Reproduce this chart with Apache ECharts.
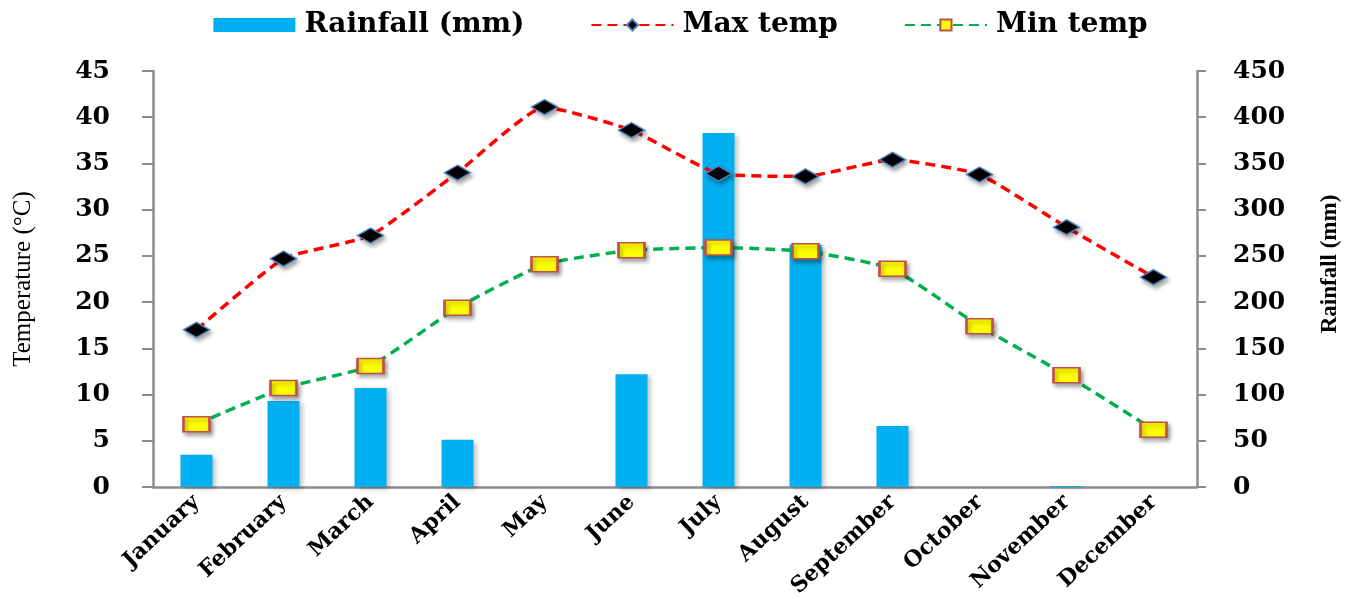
<!DOCTYPE html>
<html>
<head>
<meta charset="utf-8">
<script src="https://cdn.jsdelivr.net/npm/echarts@6/dist/echarts.min.js"></script>
<style>
html,body{margin:0;padding:0;background:#fff;}
#chart{width:1361px;height:599px;}
</style>
</head>
<body>
<div id="chart"></div>
<script>
const months = ['January','February','March','April','May','June','July','August','September','October','November','December'];
const rainfall = [35, 93, 107, 51, 0, 122, 383, 262, 66, 0, 1, 0];
const maxTemp = [17.0, 24.7, 27.2, 34.0, 41.1, 38.6, 33.9, 33.6, 35.4, 33.8, 28.1, 22.7];
const minTemp = [6.8, 10.7, 13.1, 19.4, 24.1, 25.6, 25.9, 25.5, 23.6, 17.4, 12.1, 6.2];

const serifBold = {fontFamily: 'DejaVu Serif', fontWeight: 'bold', color: '#000'};
const axisLineStyle = {color: '#8c8c8c', width: 2.5};

const chart = echarts.init(document.getElementById('chart'));
chart.setOption({
  animation: false,
  backgroundColor: '#fff',
  legend: {
    top: 6,
    left: 'center',
    itemWidth: 82,
    itemHeight: 14,
    itemGap: 66,
    textStyle: {fontSize: 28, fontFamily: 'DejaVu Serif', fontWeight: 'bold', color: '#000', padding: [0,0,0,4]},
    data: [
      {name: 'Rainfall (mm)', icon: 'rect'},
      {name: 'Max temp'},
      {name: 'Min temp'}
    ]
  },
  grid: {left: 153, right: 164, top: 71, bottom: 112, containLabel: false, outerBoundsMode: 'none'},
  xAxis: {
    type: 'category',
    data: months,
    axisLine: {lineStyle: axisLineStyle},
    axisTick: {alignWithLabel: true, length: 7, lineStyle: {color: '#8c8c8c', width: 2}},
    axisLabel: Object.assign({rotate: 43, fontSize: 22, margin: 12, interval: 0}, serifBold),
    splitLine: {show: false}
  },
  yAxis: [
    {
      type: 'value', min: 0, max: 45, interval: 5, position: 'left',
      name: 'Temperature (°C)', nameLocation: 'middle', nameGap: 117,
      nameTextStyle: {fontFamily: 'Liberation Serif', fontSize: 25, color: '#000'},
      axisLine: {show: true, lineStyle: axisLineStyle},
      axisTick: {show: true, length: 11, lineStyle: {color: '#8c8c8c', width: 2}},
      axisLabel: Object.assign({fontSize: 25, margin: 43}, serifBold),
      splitLine: {show: false}
    },
    {
      type: 'value', min: 0, max: 450, interval: 50, position: 'right',
      name: 'Rainfall (mm)', nameLocation: 'middle', nameGap: 122,
      nameTextStyle: {fontFamily: 'Liberation Serif', fontWeight: 'bold', fontSize: 23, color: '#000', padding: [0, 0, 0, 30]},
      axisLine: {show: true, lineStyle: axisLineStyle},
      axisTick: {show: true, length: 9, lineStyle: {color: '#8c8c8c', width: 2}},
      axisLabel: Object.assign({fontSize: 25, margin: 36}, serifBold),
      splitLine: {show: false}
    }
  ],
  series: [
    {
      name: 'Rainfall (mm)', type: 'bar', yAxisIndex: 1, data: rainfall,
      barWidth: 32,
      itemStyle: {color: '#00B0F0',
        shadowColor: 'rgba(0,0,0,0.25)', shadowBlur: 5, shadowOffsetX: 3, shadowOffsetY: 2},
      z: 1
    },
    {
      name: 'Max temp', type: 'line', yAxisIndex: 0, data: maxTemp,
      smooth: 0.15,
      symbol: 'diamond', symbolSize: [26, 15],
      lineStyle: {color: '#FF0000', width: 3.5, type: [10, 6]},
      itemStyle: {color: '#000', borderColor: '#4F81BD', borderWidth: 1.5,
        shadowColor: 'rgba(0,0,0,0.35)', shadowBlur: 4, shadowOffsetX: 2, shadowOffsetY: 3},
      z: 3
    },
    {
      name: 'Min temp', type: 'line', yAxisIndex: 0, data: minTemp,
      smooth: 0.15,
      symbol: 'rect', symbolSize: [26, 15],
      lineStyle: {color: '#00B050', width: 3.5, type: [10, 6]},
      itemStyle: {color: '#FFFF00', borderColor: '#C0504D', borderWidth: 2,
        shadowColor: 'rgba(0,0,0,0.35)', shadowBlur: 4, shadowOffsetX: 2, shadowOffsetY: 3},
      z: 3
    }
  ]
});
</script>
</body>
</html>
